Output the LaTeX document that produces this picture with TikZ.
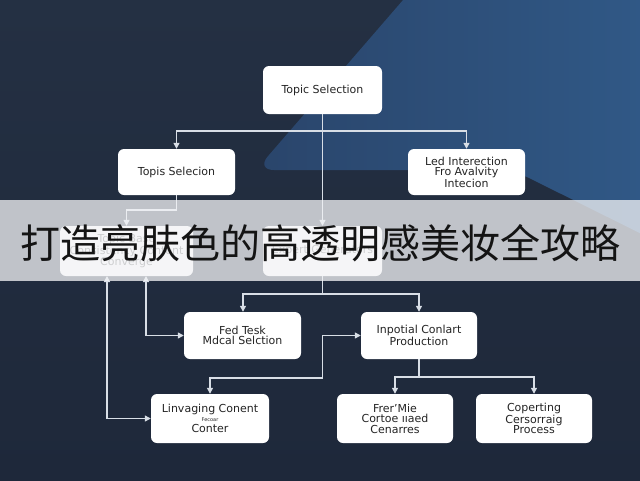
\documentclass[tikz,border=0pt]{standalone}
\usepackage{fontspec}
\setmainfont{DejaVu Sans}
\newfontfamily\cjk{Noto Sans CJK SC}
\usetikzlibrary{arrows.meta,calc}
\definecolor{bgdarktop}{HTML}{243043}
\definecolor{bgdarkbot}{HTML}{1E283A}
\definecolor{bandleft}{HTML}{2A456B}
\definecolor{bandright}{HTML}{315B8A}
\definecolor{linecol}{HTML}{D8DEE6}
\definecolor{txtgray}{HTML}{242424}
\definecolor{hidgray}{HTML}{5A5A5A}
\definecolor{bannercol}{HTML}{F2F3F5}
\definecolor{bannertxt}{HTML}{141414}
\begin{document}
\begin{tikzpicture}[x=1pt,y=-1pt,
  box/.style={rectangle, rounded corners=6pt, fill=white, draw=none,
    inner sep=0pt, align=center, text=txtgray,
    font=\fontsize{11}{10.5}\selectfont},
  conn/.style={draw=linecol, line width=1.3pt,
    -{Triangle[length=6pt,width=6pt]}},
  conn2/.style={draw=linecol, line width=1.3pt,
    {Triangle[length=6pt,width=6pt]}-{Triangle[length=6pt,width=6pt]}},
  plain/.style={draw=linecol, line width=1.3pt}]
% background
\useasboundingbox (0,0) rectangle (640,480);
\shade[top color=bgdarktop, bottom color=bgdarkbot] (0,0) rectangle (640,480);
\begin{scope}
\clip (0,0) rectangle (640,480);
\shade[left color=bandleft, right color=bandright, rounded corners=18pt]
  (429,-30) -- (700,-30) -- (700,263) -- (513,170) -- (256,170) -- cycle;
\end{scope}
% boxes
\node[box, minimum width=119pt, minimum height=48pt] (top) at (322.5,90) {Topic Selection};
\node[box, minimum width=117pt, minimum height=46pt] (ls) at (176.5,172) {Topis Selecion};
\node[box, minimum width=117pt, minimum height=46pt] (ri) at (466.5,172) {Led Interection\\Fro Avalvity\\Intecion};
\node[box, text=hidgray, minimum width=133pt, minimum height=50pt] (hl) at (126.5,251) {Topic Base\\Consistency Content\\Converge};
\node[box, text=hidgray, minimum width=119pt, minimum height=50pt] (hm) at (322.5,251) {Expert Generators};
\node[box, minimum width=117pt, minimum height=47pt] (fed) at (242.5,335.5) {Fed Tesk\\Mdcal Selction};
\node[box, minimum width=116pt, minimum height=47pt] (inp) at (419,335.5) {Inpotial Conlart\\Production};
\node[box, minimum width=118pt, minimum height=49pt] (lin) at (210,418.5) {Linvaging Conent\\[-2pt]{\fontsize{5}{5}\selectfont Fecoar}\\[1pt]Conter};
\node[box, minimum width=116pt, minimum height=49pt] (frer) at (395,418.5) {Frer'Mie\\Cortoe ııaed\\Cenarres};
\node[box, minimum width=116pt, minimum height=49pt] (cop) at (534,418.5) {Coperting\\Cersorraig\\Process};
% junction coordinates
\coordinate (j1) at (322.5,131);
\coordinate (j2) at (176.5,210);
\coordinate (j3) at (322.5,294);
\coordinate (j4) at (419,377);
\coordinate (k1) at (322.5,378);
\coordinate (u1) at (107,276);
\coordinate (u2) at (146,276);
% connectors
\draw[conn] (top.south) -- (hm.north);
\draw[conn] (j1) -| (ls.north);
\draw[conn] (j1) -| (ri.north);
\draw[conn] (ls.south) |- (j2) -| (hl.north);
\draw[plain] (hm.south) -- (j3);
\draw[conn] (j3) -| ($(fed.north)+(0.5,0)$);
\draw[conn] (j3) -| (inp.north);
\draw[conn2] (u1) |- (lin.west);
\draw[conn2] (u2) |- (fed.west);
\draw[conn2] (lin.north) |- (k1) |- (inp.west);
\draw[plain] (inp.south) -- (j4);
\draw[conn] (j4) -| (frer.north);
\draw[conn] (j4) -| (cop.north);
% banner
\fill[bannercol, opacity=0.76] (0,200) rectangle (640,281);
\node[text=bannertxt, font=\cjk\fontsize{40}{40}\selectfont, inner sep=0pt] (title) at (320,243) {打造亮肤色的高透明感美妆全攻略};
\end{tikzpicture}
\end{document}
